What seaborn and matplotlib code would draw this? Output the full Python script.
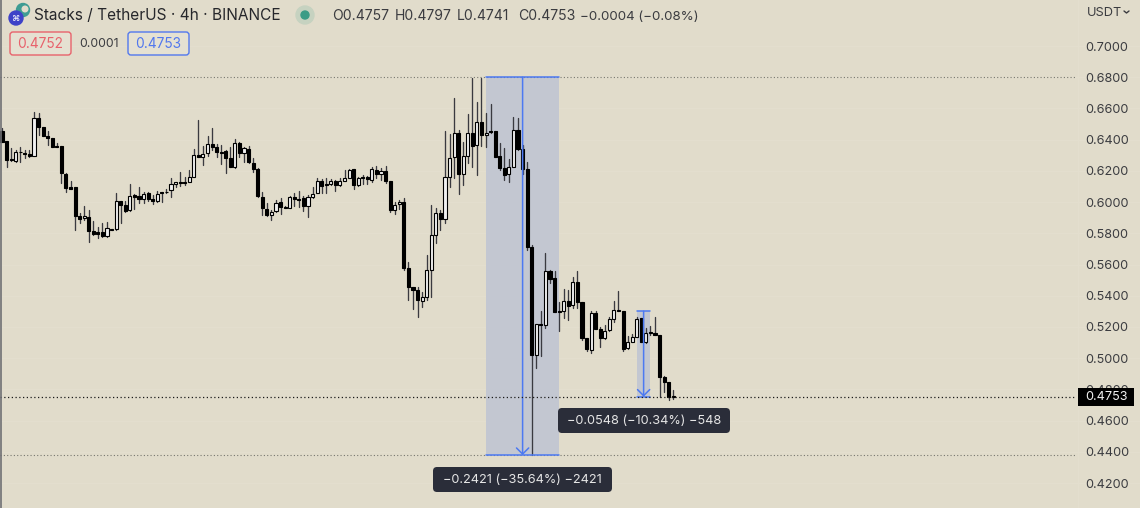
import matplotlib
matplotlib.use("Agg")
import matplotlib.pyplot as plt
from matplotlib.patches import Circle, FancyBboxPatch, Rectangle
import numpy as np
import pandas as pd
import seaborn as sns

# OHLC candles, oldest first
opens = [
    .6455, .6391, .6276, .6265, .6323, .6317, .6308, .6297, .6541, .6479,
    .6423, .6410, .6359, .6359, .6180, .6094, .6094, .5911, .5896, .5907,
    .5813, .5808, .5810, .5783, .5825, .5825, .6007, .5981, .5949, .6047,
    .6039, .6022, .6056, .6020, .6009, .6062, .6067, .6075, .6116, .6131,
    .6131, .6131, .6163, .6304, .6291, .6312, .6372, .6355, .6319, .6327,
    .6282, .6223, .6376, .6312, .6342, .6252, .6214, .6035, .5954, .5915,
    .5941, .5998, .5966, .5960, .6033, .6018, .6026, .5975, .6033, .6060,
    .6135, .6114, .6116, .6135, .6109, .6137, .6152, .6210, .6107, .6159,
    .6163, .6141, .6206, .6180, .6201, .6135, .5951, .5986, .5998, .5576,
    .5458, .5437, .5369, .5390, .5565, .5789, .5928, .5890, .6163, .6287,
    .6440, .6178, .6295, .6440, .6363, .6511, .6430, .6455, .6455, .6295,
    .6216, .6178, .6227, .6462, .6340, .6214, .5714, .5020, .5217, .5213,
    .5556, .5511, .5302, .5304, .5368, .5341, .5486, .5358, .5131, .5053,
    .5292, .5187, .5131, .5181, .5251, .5309, .5304, .5063, .5106, .5138,
    .5255, .5102, .5170, .5159, .5151, .4882, .4848, .4757,
]
highs = [
    .6472, .6391, .6344, .6334, .6351, .6334, .6334, .6579, .6573, .6483,
    .6455, .6413, .6381, .6359, .6184, .6137, .6094, .5928, .5975, .5949,
    .5881, .5843, .5868, .5875, .5825, .6056, .6009, .6009, .6114, .6052,
    .6099, .6067, .6067, .6045, .6073, .6067, .6082, .6156, .6131, .6193,
    .6159, .6206, .6338, .6526, .6359, .6423, .6477, .6372, .6366, .6334,
    .6351, .6404, .6387, .6355, .6359, .6284, .6216, .6062, .5992, .5949,
    .6013, .6028, .5975, .6039, .6056, .6073, .6039, .6045, .6094, .6152,
    .6146, .6152, .6146, .6141, .6152, .6206, .6210, .6212, .6159, .6173,
    .6167, .6223, .6233, .6216, .6231, .6137, .6003, .6013, .6028, .5614,
    .5458, .5458, .5426, .5661, .5981, .5960, .5949, .6457, .6436, .6665,
    .6462, .6387, .6562, .6793, .6643, .6793, .6573, .6626, .6455, .6381,
    .6344, .6274, .6543, .6536, .6366, .6259, .5725, .5219, .5304, .5672,
    .5565, .5560, .5358, .5443, .5437, .5522, .5558, .5358, .5131, .5302,
    .5302, .5202, .5213, .5266, .5366, .5430, .5304, .5142, .5153, .5266,
    .5255, .5196, .5206, .5266, .5151, .4886, .4850, .4797,
]
lows = [
    .6387, .6227, .6265, .6259, .6259, .6280, .6287, .6297, .6430, .6425,
    .6366, .6351, .6351, .6120, .6062, .6082, .5821, .5864, .5885, .5742,
    .5789, .5768, .5774, .5779, .5821, .5821, .5868, .5939, .5943, .5954,
    .5992, .5992, .6009, .5988, .5998, .6003, .6056, .6030, .6094, .6105,
    .6109, .6131, .6159, .6291, .6238, .6295, .6334, .6287, .6244, .6188,
    .6223, .6216, .6287, .6259, .6252, .6191, .6035, .5917, .5911, .5885,
    .5939, .5924, .5960, .5960, .5975, .5971, .5943, .5902, .6024, .6056,
    .6056, .6060, .6109, .6073, .6105, .6137, .6152, .6084, .6103, .6116,
    .6116, .6131, .6152, .6141, .6120, .5939, .5924, .5954, .5565, .5373,
    .5313, .5266, .5330, .5373, .5394, .5736, .5821, .5864, .6094, .6152,
    .6050, .6109, .6252, .6227, .6173, .6359, .6351, .6440, .6287, .6206,
    .6141, .6131, .6223, .6334, .6180, .5693, .4379, .4935, .5016, .5191,
    .5479, .5294, .5176, .5255, .5245, .5319, .5319, .5117, .5048, .5035,
    .5185, .5074, .5121, .5176, .5234, .5304, .5048, .5059, .5102, .5134,
    .5102, .5095, .5149, .5146, .4754, .4786, .4732, .4741,
]
closes = [
    .6387, .6270, .6270, .6319, .6319, .6310, .6295, .6541, .6479, .6425,
    .6410, .6355, .6353, .6184, .6092, .6086, .5911, .5894, .5911, .5817,
    .5798, .5798, .5783, .5832, .5821, .6009, .5981, .5943, .6041, .6035,
    .6020, .6052, .6018, .6009, .6054, .6058, .6062, .6114, .6131, .6124,
    .6124, .6159, .6302, .6291, .6310, .6372, .6355, .6323, .6317, .6280,
    .6225, .6376, .6312, .6344, .6255, .6212, .6039, .5960, .5917, .5939,
    .5996, .5971, .5960, .6035, .6018, .6016, .5975, .6033, .6054, .6137,
    .6105, .6107, .6137, .6107, .6137, .6154, .6206, .6107, .6152, .6152,
    .6146, .6210, .6180, .6201, .6135, .5949, .5981, .5998, .5576, .5458,
    .5437, .5373, .5390, .5563, .5787, .5928, .5890, .6163, .6280, .6440,
    .6178, .6295, .6440, .6359, .6511, .6430, .6445, .6447, .6291, .6216,
    .6173, .6227, .6464, .6338, .6212, .5714, .5020, .5219, .5213, .5556,
    .5507, .5298, .5296, .5368, .5336, .5490, .5358, .5127, .5057, .5292,
    .5187, .5131, .5176, .5249, .5309, .5304, .5057, .5106, .5138, .5249,
    .5104, .5164, .5159, .5151, .4882, .4850, .4754, .4753,
]

price_ticks = [0.70, 0.68, 0.66, 0.64, 0.62, 0.60, 0.58, 0.56, 0.54, 0.52, 0.50, 0.48, 0.46, 0.44, 0.42]
last_price = 0.4753

# the two measure tools: start bar, end bar, top price, bottom price
big_measure = (106, 122, 0.6800, 0.4379)
small_measure = (139, 142, 0.5301, 0.4753)

BG = "#E1DCCB"
BLUE = "#4C79F2"
TOOLTIP = "#2A2D39"
TEXT = "#3B3C40"

sns.set_theme(style="white")
plt.rcParams["font.family"] = ["Inter", "DejaVu Sans"]
plt.rcParams["axes.unicode_minus"] = False

candles = pd.DataFrame({"open": opens, "high": highs, "low": lows, "close": closes})
candles["bar"] = np.arange(len(candles))
candles["up"] = candles["close"] > candles["open"]
wicks = candles.melt(id_vars="bar", value_vars=["high", "low"], value_name="price")

fig = plt.figure(figsize=(11.4, 5.08), dpi=100, facecolor=BG)
ax = fig.add_axes([0, 0, 1, 1], facecolor=BG)

# faint price grid
for p in price_ticks:
    ax.axhline(p, color="#E4DFCF", lw=0.7, zorder=0)

# measure tool shading
for start, end, top, bottom in (big_measure, small_measure):
    ax.add_patch(Rectangle((start, bottom), end - start, top - bottom, color="#C3C7D1", lw=0, zorder=1))

# dotted guides stop at the price scale
scale_bar = 235.2
ax.plot([-0.44, scale_bar], [big_measure[2]] * 2, color="#77776F", lw=0.8, ls=(0, (1, 2)), zorder=1.5)
ax.plot([-0.44, scale_bar], [big_measure[3]] * 2, color="#77776F", lw=0.8, ls=(0, (1, 2)), zorder=1.5)

sns.lineplot(data=wicks, x="bar", y="price", units="bar", estimator=None, sort=False,
             color="#3A3A40", linewidth=0.95, legend=False, ax=ax, zorder=2)
ax.bar(candles["bar"], (candles["close"] - candles["open"]).abs(),
       bottom=candles[["open", "close"]].min(axis=1), width=0.68,
       color=np.where(candles["up"], "#F1F1F1", "#000000"), edgecolor="#000000", linewidth=0.8, zorder=3)

# measure tool lines and arrows
for start, end, top, bottom in (big_measure, small_measure):
    ax.plot([start, end], [top, top], color=BLUE, lw=1.1, zorder=4)
    ax.plot([start, end], [bottom, bottom], color=BLUE, lw=1.1, zorder=4)
    ax.annotate("", xy=((start + end) / 2, bottom), xytext=((start + end) / 2, top),
                arrowprops=dict(arrowstyle="->,head_length=0.22,head_width=0.22", color=BLUE, lw=1.1,
                                mutation_scale=20, shrinkA=0, shrinkB=0), zorder=4)

ax.plot([-0.44, scale_bar], [last_price] * 2, color="#1A1A1A", lw=0.9, ls=(0, (1, 2)), zorder=5)

# 1px = 1/4.566 bar and 1/1561 price on the reference
ax.set_xlim(-0.44, 249.2)
ax.set_ylim(0.40404, 0.72947)
ax.set_yticks(price_ticks)
ax.set_yticklabels([f"{p:.4f}" for p in price_ticks], color=TEXT, fontsize=9.1)
ax.yaxis.tick_right()
ax.tick_params(axis="y", length=0, pad=-39.5)
ax.set_xticks([])
ax.set_xlabel("")
ax.set_ylabel("")
for s in ax.spines.values():
    s.set_visible(False)

# chart chrome, laid out in reference pixels on an overlay
ui = fig.add_axes([0, 0, 1, 1], facecolor="none")
ui.set_xlim(0, 1140)
ui.set_ylim(508, 0)
ui.axis("off")

ui.plot([0.5, 0.5], [0, 508], color="#6F7074", lw=1.2)
ui.axvline(1078, color="#E4DFCF", lw=0.7, zorder=0)

ui.add_patch(Circle((23, 10), 6.5, color="#3E9C93"))
ui.add_patch(Circle((25, 9), 2.8, color=BG))
ui.add_patch(Circle((16, 18), 7, color="#3E42C8"))
ui.text(16, 18.5, "⌘", color="white", fontsize=6, ha="center", va="center", family=["DejaVu Sans"])

ui.text(34, 15.5, "Stacks / TetherUS · 4h · BINANCE", color="#26272B", fontsize=11.1, va="center")
ui.add_patch(Circle((305, 15), 9, color="#C6D2C0"))
ui.add_patch(Circle((305, 15), 4, color="#3C9C86"))
for x0, label, size in ((332, "O0.4757", 10.1), (395, "H0.4797", 10.1), (457, "L0.4741", 10.1), (518, "C0.4753", 10.1),
                        (580, "\u22120.0004 (\u22120.08%)", 9.6)):
    ui.text(x0, 16.5, label, color=TEXT, fontsize=size, va="center")

for x0, w, col, label in ((10, 61, "#E8626C", "0.4752"), (128, 61, "#5278EE", "0.4753")):
    ui.add_patch(FancyBboxPatch((x0 + 3, 35), w - 6, 17, boxstyle="round,pad=3,rounding_size=3",
                                fc="#E5E1D2", ec=col, lw=1.0))
    ui.text(x0 + w / 2, 44, label, color=col, fontsize=9.9, ha="center", va="center")
ui.text(99, 44, "0.0001", color=TEXT, fontsize=8.8, ha="center", va="center")

ui.text(1104, 13.5, "USDT", color=TEXT, fontsize=9.2, ha="center", va="center")
ui.plot([1124, 1126.5, 1129], [11, 13, 11], color=TEXT, lw=1.0)

# last price label
ui.add_patch(Rectangle((1078, 388), 56, 18, color="#000000", lw=0))
ui.text(1107, 397.5, f"{last_price:.4f}", color="#F2F2F2", fontsize=9.1, ha="center", va="center")

# measure tooltips
for x0, y0, w, h, label in ((558, 408, 172, 25, "\u22120.0548 (\u221210.34%) \u2212548"),
                            (433, 467, 179, 25, "\u22120.2421 (\u221235.64%) \u22122421")):
    ui.add_patch(FancyBboxPatch((x0 + 4, y0 + 4), w - 8, h - 8, boxstyle="round,pad=4,rounding_size=4",
                                fc=TOOLTIP, ec="none"))
    ui.text(x0 + w / 2, y0 + h / 2 + 0.5, label, color="#E6E6E6", fontsize=9.15, ha="center", va="center")

fig.savefig("out.png", dpi=100, facecolor=BG)
